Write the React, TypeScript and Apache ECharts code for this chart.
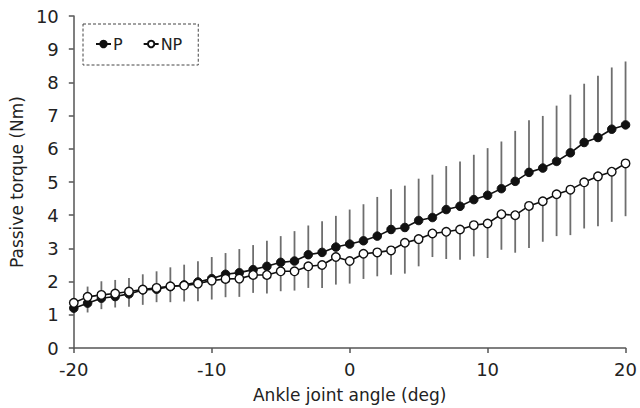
import React, { useEffect, useRef } from "react";
import * as echarts from "echarts";

const angles: number[] = [];
for (let a = -20; a <= 20; a++) angles.push(a);

const pMean = [1.20, 1.35, 1.50, 1.55, 1.63, 1.75, 1.77, 1.85, 1.90, 1.99, 2.09, 2.22, 2.27, 2.36, 2.46, 2.58, 2.62, 2.81, 2.88, 3.04, 3.13, 3.23, 3.37, 3.57, 3.63, 3.84, 3.93, 4.17, 4.27, 4.47, 4.60, 4.80, 5.02, 5.29, 5.42, 5.62, 5.88, 6.19, 6.34, 6.59, 6.72];
const pUpper = [1.50, 1.85, 2.01, 2.05, 2.11, 2.22, 2.31, 2.43, 2.51, 2.61, 2.74, 2.86, 2.98, 3.10, 3.23, 3.37, 3.52, 3.69, 3.82, 3.98, 4.17, 4.33, 4.55, 4.78, 4.89, 5.10, 5.22, 5.48, 5.62, 5.82, 6.02, 6.22, 6.54, 6.86, 6.99, 7.30, 7.63, 7.96, 8.20, 8.45, 8.63];
const npMean = [1.36, 1.54, 1.60, 1.64, 1.70, 1.76, 1.81, 1.86, 1.88, 1.94, 2.03, 2.08, 2.09, 2.20, 2.20, 2.31, 2.31, 2.46, 2.50, 2.74, 2.62, 2.84, 2.88, 2.94, 3.17, 3.28, 3.45, 3.50, 3.57, 3.70, 3.75, 4.03, 4.00, 4.28, 4.42, 4.63, 4.77, 4.99, 5.17, 5.31, 5.56];
const npLower = [1.05, 1.07, 1.17, 1.22, 1.24, 1.30, 1.38, 1.38, 1.40, 1.41, 1.46, 1.53, 1.54, 1.66, 1.64, 1.71, 1.73, 1.81, 1.81, 1.91, 1.94, 2.08, 2.16, 2.21, 2.24, 2.46, 2.74, 2.68, 2.66, 2.76, 2.71, 2.96, 2.87, 3.01, 3.20, 3.37, 3.40, 3.60, 3.67, 3.80, 3.97];

const seriesNames = ["P", "NP"];
const xTitle = "Ankle joint angle (deg)";
const yTitle = "Passive torque (Nm)";

const FONT = "'DejaVu Sans', sans-serif";

function errorBar(name: string, lows: number[], highs: number[]) {
  return {
    type: "custom",
    name: name + "-err",
    silent: true,
    z: 1,
    data: angles.map((a, i) => [a, lows[i], highs[i]]),
    renderItem: (params: any, api: any) => {
      const p1 = api.coord([api.value(0), api.value(1)]);
      const p2 = api.coord([api.value(0), api.value(2)]);
      return {
        type: "line",
        shape: { x1: p1[0], y1: p1[1], x2: p2[0], y2: p2[1] },
        style: { stroke: "#6e6e6e", lineWidth: 1.8 },
      };
    },
  };
}

export default function App() {
  const ref = useRef<HTMLDivElement>(null);
  useEffect(() => {
    if (!ref.current) return;
    const chart = echarts.init(ref.current, undefined, { renderer: "svg" });
    chart.setOption({
      animation: false,
      backgroundColor: "#ffffff",
      textStyle: { fontFamily: FONT },
      grid: { left: 67, right: 12, top: 16, bottom: 58 },
      legend: {
        data: seriesNames,
        left: 83,
        top: 24,
        orient: "horizontal",
        padding: [12, 16, 13, 12],
        itemGap: 20,
        itemWidth: 15,
        itemHeight: 8,
        borderColor: "#444",
        borderWidth: 1,
        borderType: [3, 2],
        textStyle: { fontSize: 16, color: "#222", fontFamily: FONT, padding: [0, 0, 0, -3] },
      },
      xAxis: {
        type: "value",
        min: -20,
        max: 20,
        interval: 10,
        name: xTitle,
        nameLocation: "middle",
        nameGap: 38,
        nameTextStyle: { fontSize: 17, color: "#222", fontFamily: FONT },
        axisLine: { onZero: false, lineStyle: { color: "#555", width: 1.5 } },
        axisTick: { show: true, inside: false, length: 5, lineStyle: { color: "#555", width: 1.5 } },
        axisLabel: { fontSize: 18, color: "#222", margin: 12, fontFamily: FONT },
        splitLine: { show: false },
      },
      yAxis: {
        type: "value",
        min: 0,
        max: 10,
        interval: 1,
        name: yTitle,
        nameLocation: "middle",
        nameGap: 48,
        nameTextStyle: { fontSize: 17, color: "#222", fontFamily: FONT },
        axisLine: { show: true, onZero: false, lineStyle: { color: "#555", width: 1.5 } },
        axisTick: { show: true, inside: false, length: 5, lineStyle: { color: "#555", width: 1.5 } },
        axisLabel: { fontSize: 18, color: "#222", margin: 15, fontFamily: FONT },
        splitLine: { show: false },
      },
      series: [
        errorBar("P", pMean, pUpper),
        errorBar("NP", npLower, npMean),
        {
          type: "line",
          name: "P",
          z: 3,
          data: angles.map((a, i) => [a, pMean[i]]),
          symbol: "circle",
          symbolSize: 8.5,
          showSymbol: true,
          lineStyle: { color: "#111", width: 1.6 },
          itemStyle: { color: "#111", borderColor: "#111", borderWidth: 1 },
        },
        {
          type: "line",
          name: "NP",
          z: 4,
          data: angles.map((a, i) => [a, npMean[i]]),
          symbol: "circle",
          symbolSize: 8.5,
          showSymbol: true,
          lineStyle: { color: "#111", width: 1.6 },
          itemStyle: { color: "#ffffff", borderColor: "#111", borderWidth: 1.4 },
        },
      ],
    });
    return () => chart.dispose();
  }, []);
  return <div ref={ref} style={{ width: 640, height: 408, position: "absolute", left: 0, top: 0 }} />;
}
